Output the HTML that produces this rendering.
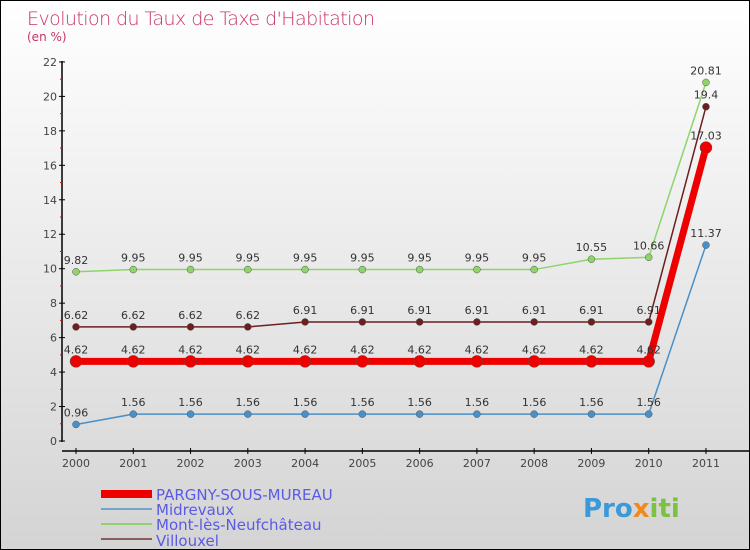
<!DOCTYPE html>
<html><head><meta charset="utf-8"><style>
body{margin:0}
#c{position:relative;width:748px;height:548px;border:1px solid #000;background:linear-gradient(#fff,#f2f2f2 30%,#d4d4d4);overflow:hidden;font-family:"DejaVu Sans","Liberation Sans",sans-serif}
svg text{font-family:"DejaVu Sans","Liberation Sans",sans-serif}
</style></head><body>
<div id="c">
<svg id="s" width="748" height="548" xmlns="http://www.w3.org/2000/svg">
<text x="26" y="24" font-size="19" fill="#c8336a" style="font-weight:200" textLength="348">Evolution du Taux de Taxe d'Habitation</text>
<text x="26" y="40" font-size="12" fill="#c8336a">(en %)</text>
<g id="axes"></g><g id="series"></g>
<g>
<rect x="100" y="489" width="51" height="8" fill="#e00"/>
<text x="155" y="499" font-size="15" fill="#5a5ae6">PARGNY-SOUS-MUREAU</text>
<line x1="100" y1="508" x2="151" y2="508" stroke="#6fa7cc" stroke-width="2"/>
<text x="155" y="514" font-size="15" fill="#5a5ae6">Midrevaux</text>
<line x1="100" y1="523" x2="151" y2="523" stroke="#8ed46b" stroke-width="2"/>
<text x="155" y="529" font-size="15" fill="#5a5ae6">Mont-lès-Neufchâteau</text>
<line x1="100" y1="538" x2="151" y2="538" stroke="#8b5a5a" stroke-width="2"/>
<text x="155" y="545" font-size="15" fill="#5a5ae6">Villouxel</text>
</g>
<g><text x="582" y="516" font-size="26" font-weight="bold" fill="#3a9ad9">Pro<tspan fill="#f08a1c">x</tspan><tspan fill="#7cc142">iti</tspan></text></g>
</svg></div>
<script>
const years=[2000,2001,2002,2003,2004,2005,2006,2007,2008,2009,2010,2011];
const pargny=[4.62,4.62,4.62,4.62,4.62,4.62,4.62,4.62,4.62,4.62,4.62,17.03];
const midrevaux=[0.96,1.56,1.56,1.56,1.56,1.56,1.56,1.56,1.56,1.56,1.56,11.37];
const mont=[9.82,9.95,9.95,9.95,9.95,9.95,9.95,9.95,9.95,10.55,10.66,20.81];
const villouxel=[6.62,6.62,6.62,6.62,6.91,6.91,6.91,6.91,6.91,6.91,6.91,19.4];
const yTicks=[0,2,4,6,8,10,12,14,16,18,20,22];
const NS="http://www.w3.org/2000/svg";
const xs=i=>75+i*57.27, ys=v=>440-v*17.23;
function mk(t,a,p){const e=document.createElementNS(NS,t);for(const k in a)e.setAttribute(k,a[k]);p.appendChild(e);return e;}
const ax=document.getElementById('axes'), sg=document.getElementById('series');
let l=mk('line',{x1:61,y1:60,x2:61,y2:441,stroke:'#000','stroke-width':1.5},ax);


l=mk('line',{x1:61,y1:450,x2:748,y2:450,stroke:'#000','stroke-width':1.5},ax);


yTicks.forEach(v=>{
 mk('line',{x1:58,y1:ys(v),x2:64,y2:ys(v),stroke:'#000'},ax);
 if(v<22) mk('line',{x1:59,y1:ys(v+1),x2:61,y2:ys(v+1),stroke:'#e00'},ax);
 const t=mk('text',{x:56,y:ys(v)+4,'font-size':11,fill:'#444','text-anchor':'end'},ax);t.textContent=v;
 
 
});
years.forEach((y,i)=>{
 mk('line',{x1:xs(i),y1:447,x2:xs(i),y2:453,stroke:'#000'},ax);
 const t=mk('text',{x:xs(i),y:466,'font-size':11,fill:'#444','text-anchor':'middle'},ax);t.textContent=y;
 
 
});
function series(d,col,w,r,name){
 const g=mk('g',{},sg);
 
 
 mk('polyline',{points:d.map((v,i)=>xs(i)+','+ys(v)).join(' '),fill:'none',stroke:col,'stroke-width':w},g);
 d.forEach((v,i)=>{
  const c=mk('circle',{cx:xs(i),cy:ys(v),r:r,fill:col,stroke:'#555','stroke-width':0.5},g);
  
  
  const t=mk('text',{x:xs(i),y:ys(v)-8,'font-size':11,fill:'#333','text-anchor':'middle'},g);t.textContent=v;
 });
}
series(midrevaux,'#4a90c8',1.5,3.5,'midrevaux');
series(mont,'#8ed46b',1.5,3.5,'mont');
series(villouxel,'#6b1f1f',1.5,3.5,'villouxel');
series(pargny,'#ee0000',7,6,'pargny');
</script>
</body></html>
